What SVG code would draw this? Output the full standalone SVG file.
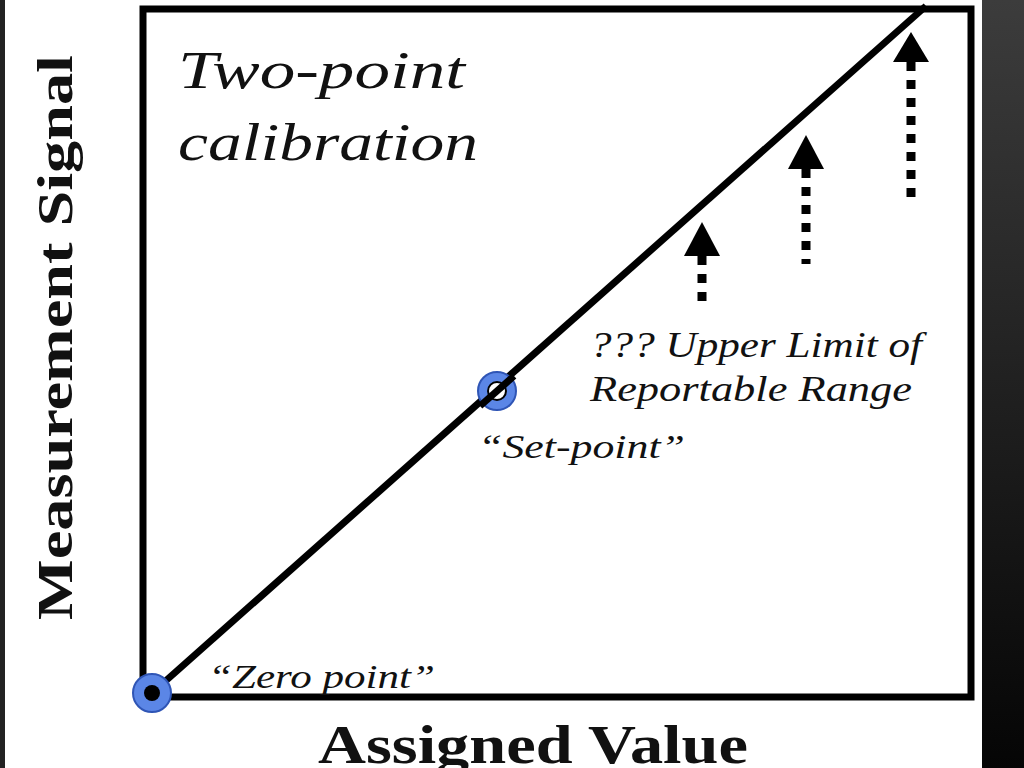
<svg xmlns="http://www.w3.org/2000/svg" width="1024" height="768" viewBox="0 0 1024 768">
<defs>
<linearGradient id="g" x1="0" y1="0" x2="0" y2="1"><stop offset="0" stop-color="#3c3c3c"/><stop offset="1" stop-color="#050505"/></linearGradient>
<style>
.it{font-family:"Liberation Serif",serif;font-style:italic;fill:#111}
.bd{font-family:"Liberation Serif",serif;font-weight:bold;fill:#111}
.dot{stroke:#000;stroke-width:9;stroke-dasharray:9 9}
.pt{fill:#5b86e6;stroke:#2f55b5;stroke-width:2}
</style>
</defs>
<rect width="1024" height="768" fill="#fff"/>
<rect x="0" y="0" width="5" height="768" fill="#222"/>
<rect x="982" y="0" width="42" height="768" fill="url(#g)"/>
<rect x="143" y="9" width="828" height="688" fill="none" stroke="#000" stroke-width="7"/>
<g id="connectors">
<line x1="152" y1="693" x2="926" y2="6" stroke="#000" stroke-width="7"/>
<line class="dot" x1="702" y1="256" x2="702" y2="308"/>
<polygon points="702,222 684,256 720,256"/>
<line class="dot" x1="806" y1="169" x2="806" y2="264"/>
<polygon points="806,135 788,169 824,169"/>
<line class="dot" x1="911" y1="62" x2="911" y2="206"/>
<polygon points="911,32 893,62 929,62"/>
</g>
<g id="zero"><circle class="pt" cx="152" cy="693" r="19"/><circle cx="152" cy="693" r="8" fill="#000"/></g>
<g id="setpoint"><circle class="pt" cx="497" cy="391" r="19"/><circle cx="497" cy="391" r="9" fill="#fff" stroke="#000" stroke-width="2"/><line x1="480" y1="406" x2="514" y2="376" stroke="#000" stroke-width="7"/></g>
<text class="it" x="178" y="88" font-size="52" textLength="287" lengthAdjust="spacingAndGlyphs">Two-point</text>
<text class="it" x="178" y="160" font-size="52" textLength="300" lengthAdjust="spacingAndGlyphs">calibration</text>
<text class="it" x="590" y="357" font-size="36" textLength="332" lengthAdjust="spacingAndGlyphs">??? Upper Limit of</text>
<text class="it" x="590" y="401" font-size="36" textLength="322" lengthAdjust="spacingAndGlyphs">Reportable Range</text>
<text class="it" x="478" y="458" font-size="34" textLength="207" lengthAdjust="spacingAndGlyphs">“Set-point”</text>
<text class="it" x="208" y="688" font-size="34" textLength="227" lengthAdjust="spacingAndGlyphs">“Zero point”</text>
<text class="bd" x="318" y="763" font-size="54" textLength="430" lengthAdjust="spacingAndGlyphs">Assigned Value</text>
<text class="bd" transform="translate(72,620) rotate(-90)" font-size="50" textLength="565" lengthAdjust="spacingAndGlyphs">Measurement Signal</text>
</svg>
